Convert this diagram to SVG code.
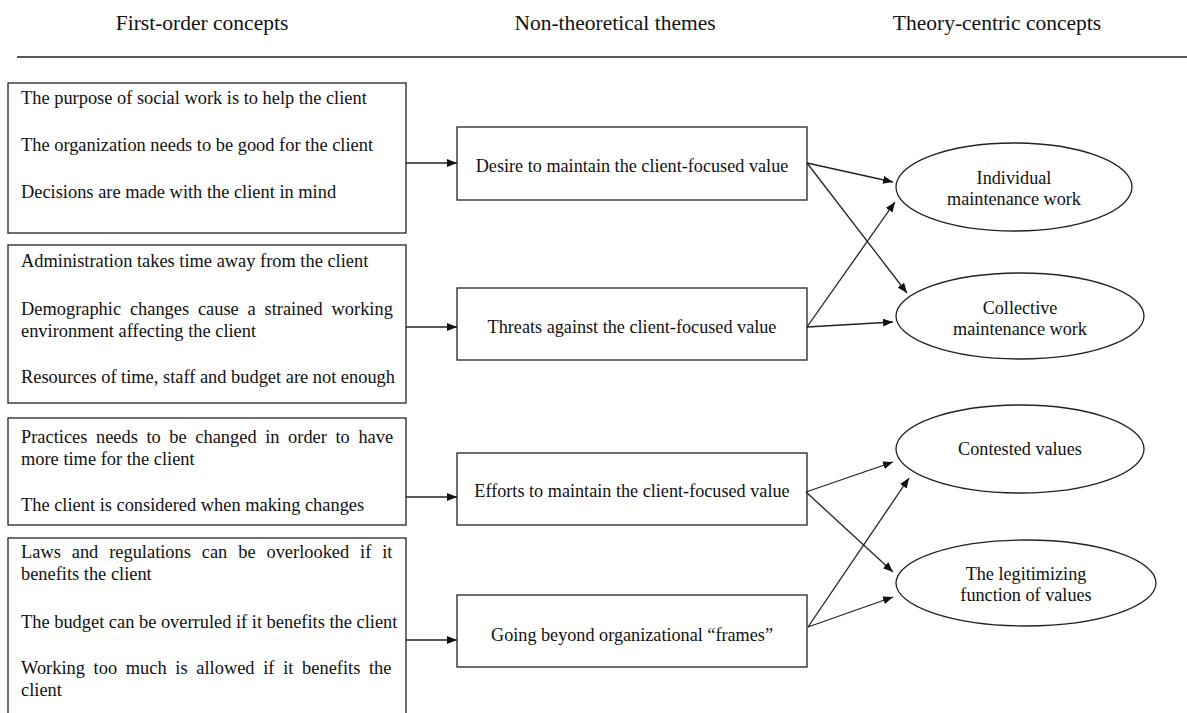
<svg xmlns="http://www.w3.org/2000/svg" width="1187" height="713" viewBox="0 0 1187 713">
<defs>
<style>
text{font-family:"Liberation Serif","Times New Roman",serif;fill:#111}
.h{font-size:21.5px;text-anchor:middle}
.t{font-size:18.4px}
.c{font-size:18.2px;text-anchor:middle}
.box{fill:#fff;stroke:#222;stroke-width:1.3}
.con{stroke:#222;stroke-width:1.3;fill:none;marker-end:url(#ah)}
</style>
<marker id="ah" viewBox="0 0 10 8" refX="10" refY="4" markerWidth="10" markerHeight="8" markerUnits="userSpaceOnUse" orient="auto">
<path d="M0,0 L10,4 L0,8 z" fill="#111"/>
</marker>
</defs>
<rect width="1187" height="713" fill="#fff"/>
<g id="header">
<text class="h" x="202" y="30">First-order concepts</text>
<text class="h" x="615" y="30">Non-theoretical themes</text>
<text class="h" x="997" y="30">Theory-centric concepts</text>
<line x1="17" y1="57" x2="1187" y2="57" stroke="#222" stroke-width="1.3"/>
</g>
<g id="fo1">
<rect class="box" x="8" y="83" width="398" height="150"/>
<text class="t" x="21" y="104">The purpose of social work is to help the client</text>
<text class="t" x="21" y="151">The organization needs to be good for the client</text>
<text class="t" x="21" y="198">Decisions are made with the client in mind</text>
</g>
<g id="fo2">
<rect class="box" x="8" y="245" width="398" height="158"/>
<text class="t" x="21" y="267">Administration takes time away from the client</text>
<text class="t" x="21" y="315" style="word-spacing:4.2px">Demographic changes cause a strained working</text>
<text class="t" x="21" y="337">environment affecting the client</text>
<text class="t" x="21" y="383">Resources of time, staff and budget are not enough</text>
</g>
<g id="fo3">
<rect class="box" x="8" y="418" width="398" height="107"/>
<text class="t" x="21" y="443" style="word-spacing:4px">Practices needs to be changed in order to have</text>
<text class="t" x="21" y="465">more time for the client</text>
<text class="t" x="21" y="511">The client is considered when making changes</text>
</g>
<g id="fo4">
<rect class="box" x="8" y="538" width="398" height="182"/>
<text class="t" x="21" y="558" style="word-spacing:6.3px">Laws and regulations can be overlooked if it</text>
<text class="t" x="21" y="580">benefits the client</text>
<text class="t" x="21" y="628">The budget can be overruled if it benefits the client</text>
<text class="t" x="21" y="674" style="word-spacing:4.1px">Working too much is allowed if it benefits the</text>
<text class="t" x="21" y="696">client</text>
</g>
<g id="th1">
<rect class="box" x="457" y="127" width="350" height="73"/>
<text class="c" x="632" y="172">Desire to maintain the client-focused value</text>
</g>
<g id="th2">
<rect class="box" x="457" y="288" width="350" height="72"/>
<text class="c" x="632" y="333">Threats against the client-focused value</text>
</g>
<g id="th3">
<rect class="box" x="457" y="453" width="350" height="72"/>
<text class="c" x="632" y="497">Efforts to maintain the client-focused value</text>
</g>
<g id="th4">
<rect class="box" x="457" y="595" width="350" height="72"/>
<text class="c" x="632" y="641">Going beyond organizational “frames”</text>
</g>
<g id="tc1">
<ellipse class="box" cx="1014" cy="187" rx="118" ry="44"/>
<text class="c" x="1014" y="184">Individual</text>
<text class="c" x="1014" y="205">maintenance work</text>
</g>
<g id="tc2">
<ellipse class="box" cx="1020" cy="316" rx="124" ry="43"/>
<text class="c" x="1020" y="314">Collective</text>
<text class="c" x="1020" y="335">maintenance work</text>
</g>
<g id="tc3">
<ellipse class="box" cx="1020" cy="449" rx="124" ry="44"/>
<text class="c" x="1020" y="455">Contested values</text>
</g>
<g id="tc4">
<ellipse class="box" cx="1026" cy="583" rx="130" ry="43"/>
<text class="c" x="1026" y="580">The legitimizing</text>
<text class="c" x="1026" y="601">function of values</text>
</g>
<g id="connectors">
<line class="con" x1="406" y1="163" x2="457" y2="163"/>
<line class="con" x1="406" y1="327" x2="457" y2="327"/>
<line class="con" x1="406" y1="497" x2="457" y2="497"/>
<line class="con" x1="406" y1="640" x2="457" y2="640"/>
<line class="con" x1="807" y1="163" x2="893" y2="182"/>
<line class="con" x1="807" y1="163" x2="907" y2="293"/>
<line class="con" x1="807" y1="327" x2="895" y2="202"/>
<line class="con" x1="807" y1="327" x2="893" y2="322"/>
<line class="con" x1="806" y1="492" x2="893" y2="462"/>
<line class="con" x1="806" y1="492" x2="893" y2="572"/>
<line class="con" x1="808" y1="627" x2="909" y2="478"/>
<line class="con" x1="808" y1="627" x2="893" y2="597"/>
</g>
</svg>
